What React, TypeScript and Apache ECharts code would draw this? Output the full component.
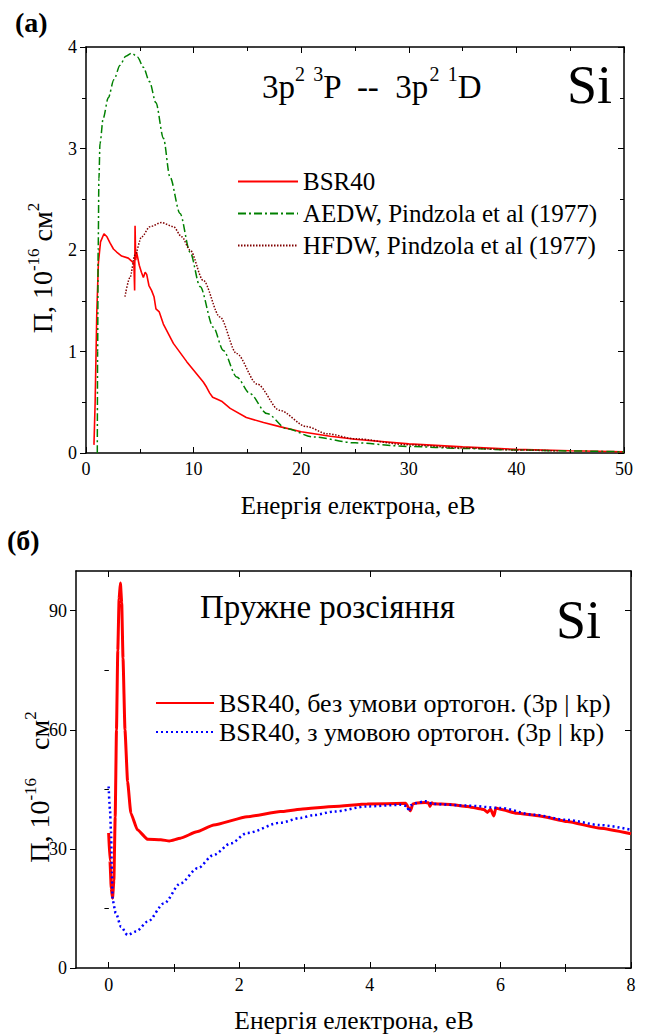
import React, { useEffect, useRef } from "react";
import * as echarts from "echarts";

const FONT = "Liberation Serif";

// ---------- Panel (a): 3p2 3P -- 3p2 1D ----------
const bsrTopE = [0.74, 0.85, 1.0, 1.15, 1.35, 1.67, 1.95, 2.23, 2.55, 2.85, 3.31, 3.93, 4.24, 4.45, 4.52, 4.56, 4.62, 4.7, 4.95, 5.15, 5.33, 5.5, 5.64, 5.85, 6.1, 6.32, 6.5, 6.81, 7.19, 8.12, 9.36, 10.9, 11.2, 11.5, 11.77, 12.2, 12.6, 13.4, 14.9, 16.5, 18.0, 20.0, 22.7, 25, 30, 35, 40, 45, 50];
const bsrTopS = [0.08, 0.5, 1.37, 1.87, 2.08, 2.16, 2.13, 2.07, 2.01, 1.98, 1.94, 1.92, 1.89, 1.87, 1.6, 2.24, 1.9, 1.98, 1.85, 1.78, 1.73, 1.78, 1.76, 1.65, 1.6, 1.54, 1.42, 1.39, 1.27, 1.08, 0.9, 0.7, 0.65, 0.59, 0.55, 0.53, 0.51, 0.44, 0.35, 0.3, 0.26, 0.21, 0.165, 0.135, 0.09, 0.06, 0.036, 0.022, 0.012];

const aedwE = [1.05, 1.08, 1.13, 1.2, 1.3, 1.6, 2.07, 2.6, 3.16, 3.7, 4.25, 4.8, 5.33, 5.9, 6.5, 7.2, 7.8, 8.74, 9.67, 10.6, 11.83, 12.76, 14.0, 15.24, 16.8, 18.65, 21.1, 25, 30, 35, 40, 45, 50];
const aedwS = [0, 1.0, 2.0, 2.7, 3.05, 3.3, 3.5, 3.68, 3.82, 3.91, 3.94, 3.9, 3.8, 3.66, 3.45, 3.1, 2.72, 2.36, 1.98, 1.64, 1.24, 1.01, 0.75, 0.585, 0.39, 0.24, 0.158, 0.1, 0.065, 0.045, 0.03, 0.02, 0.012];

const hfdwE = [3.62, 4.09, 4.55, 5.17, 5.95, 7.03, 8.12, 8.9, 9.67, 10.9, 12.45, 14.0, 15.9, 18.0, 20.5, 22.4, 25, 30, 35, 40, 44];
const hfdwS = [1.54, 1.73, 1.95, 2.13, 2.23, 2.27, 2.23, 2.13, 2.0, 1.7, 1.34, 0.98, 0.68, 0.42, 0.26, 0.19, 0.14, 0.08, 0.05, 0.03, 0.02];

// ---------- Panel (б): elastic scattering ----------
const noOrthE = [0.0, 0.02, 0.04, 0.06, 0.08, 0.1, 0.12, 0.14, 0.16, 0.18, 0.2, 0.22, 0.25, 0.29, 0.34, 0.44, 0.6, 0.8, 0.93, 1.1, 1.35, 1.61, 2.12, 2.63, 2.94, 3.45, 3.96, 4.55, 4.59, 4.62, 4.66, 4.7, 4.85, 4.9, 4.92, 4.95, 4.97, 5.23, 5.49, 5.69, 5.75, 5.8, 5.85, 5.9, 5.93, 6.0, 6.25, 6.6, 7.02, 7.53, 8.0];
const noOrthS = [34, 27, 20, 17.6, 22, 38, 60, 80, 93, 97, 92, 78, 60, 47, 39, 34.8, 32.4, 32.3, 32.0, 32.7, 34.3, 36.0, 38.1, 39.4, 40.0, 40.7, 41.3, 41.5, 40.5, 39.6, 41.3, 41.5, 41.7, 41.6, 40.7, 41.6, 41.4, 41.2, 40.7, 40.1, 39.9, 39.2, 40.0, 38.3, 40.3, 40.0, 39.0, 38.3, 36.9, 35.2, 33.8];

const orthE = [0.0, 0.02, 0.035, 0.05, 0.06, 0.11, 0.19, 0.29, 0.42, 0.6, 0.85, 1.1, 1.36, 1.61, 1.87, 2.12, 2.63, 2.94, 3.14, 3.45, 3.96, 4.47, 4.57, 4.6, 4.63, 4.7, 4.85, 4.97, 5.49, 6.0, 6.51, 7.02, 7.53, 8.0];
const orthS = [45.7, 40, 34.8, 24, 17.1, 13.8, 10.4, 8.3, 9.2, 11.7, 16.3, 21.3, 25.1, 28.5, 31.4, 34.0, 36.6, 37.8, 38.5, 39.4, 40.7, 41.1, 40.8, 39.4, 41.0, 41.5, 42.0, 41.3, 40.9, 40.3, 38.6, 37.3, 36.0, 34.8];

// ---------- Names / ticks ----------
const legendTop = ["BSR40", "AEDW, Pindzola et al (1977)", "HFDW, Pindzola et al (1977)"];
const legendBottom = ["BSR40, без умови ортогон. (3p | kp)", "BSR40, з умовою ортогон. (3p | kp)"];
const xTicksB = [0, 2, 4, 6, 8];
const xMinorB = [1, 3, 5, 7];
const yTicksB = [0, 30, 60, 90];
const yMinorB = [15, 45, 75];

const zip = (xs: number[], ys: number[]) => xs.map((x, i) => [x, ys[i]]);

const black = "#000";
const axisLine = { show: true, onZero: false, lineStyle: { color: black, width: 1.5 } };
const tickLine = { color: black, width: 1 };
const labelStyle = { color: black, fontFamily: FONT, fontSize: 18 };

function buildOption() {
  const xAxis: any[] = [
    {
      gridIndex: 0, type: "value", position: "bottom", min: 0, max: 50, interval: 10,
      axisLine, axisTick: { show: true, inside: true, length: 6, lineStyle: tickLine },
      minorTick: { show: true, splitNumber: 2, length: 4, lineStyle: tickLine },
      axisLabel: { ...labelStyle, margin: 7 }, splitLine: { show: false },
    },
    {
      gridIndex: 0, type: "value", position: "top", min: 0, max: 50, interval: 10,
      axisLine, axisTick: { show: true, inside: true, length: 6, lineStyle: tickLine },
      minorTick: { show: true, splitNumber: 2, length: 4, lineStyle: tickLine },
      axisLabel: { show: false }, splitLine: { show: false },
    },
    {
      gridIndex: 1, type: "value", position: "bottom", min: -0.5, max: 8,
      axisLine, axisTick: { show: true, inside: true, length: 6, lineStyle: tickLine, customValues: xTicksB },
      axisLabel: { ...labelStyle, margin: 8, customValues: xTicksB }, splitLine: { show: false },
    },
    {
      gridIndex: 1, type: "value", position: "bottom", min: -0.5, max: 8,
      axisLine: { show: false }, axisTick: { show: true, inside: true, length: 4, lineStyle: tickLine, customValues: xMinorB },
      axisLabel: { show: false }, splitLine: { show: false },
    },
    {
      gridIndex: 1, type: "value", position: "top", min: -0.5, max: 8,
      axisLine, axisTick: { show: true, inside: true, length: 6, lineStyle: tickLine, customValues: xTicksB },
      axisLabel: { show: false }, splitLine: { show: false },
    },
    {
      gridIndex: 1, type: "value", position: "top", min: -0.5, max: 8,
      axisLine: { show: false }, axisTick: { show: true, inside: true, length: 4, lineStyle: tickLine, customValues: xMinorB },
      axisLabel: { show: false }, splitLine: { show: false },
    },
  ];
  const yAxis: any[] = [
    {
      gridIndex: 0, type: "value", position: "left", min: 0, max: 4, interval: 1,
      axisLine, axisTick: { show: true, inside: false, length: 6, lineStyle: tickLine },
      minorTick: { show: true, splitNumber: 2, length: 4, lineStyle: tickLine },
      axisLabel: { ...labelStyle, margin: 9 }, splitLine: { show: false },
    },
    {
      gridIndex: 0, type: "value", position: "right", min: 0, max: 4, interval: 1,
      axisLine, axisTick: { show: true, inside: true, length: 6, lineStyle: tickLine },
      minorTick: { show: true, splitNumber: 2, length: 4, lineStyle: tickLine },
      axisLabel: { show: false }, splitLine: { show: false },
    },
    {
      gridIndex: 1, type: "value", position: "left", min: 0, max: 100,
      axisLine, axisTick: { show: true, inside: false, length: 6, lineStyle: tickLine, customValues: yTicksB },
      axisLabel: { ...labelStyle, margin: 9, customValues: yTicksB }, splitLine: { show: false },
    },
    {
      gridIndex: 1, type: "value", position: "left", min: 0, max: 100,
      axisLine: { show: false }, axisTick: { show: true, inside: false, length: 4, lineStyle: tickLine, customValues: yMinorB },
      axisLabel: { show: false }, splitLine: { show: false },
    },
    {
      gridIndex: 1, type: "value", position: "right", min: 0, max: 100,
      axisLine, axisTick: { show: true, inside: true, length: 6, lineStyle: tickLine, customValues: yTicksB },
      axisLabel: { show: false }, splitLine: { show: false },
    },
    {
      gridIndex: 1, type: "value", position: "right", min: 0, max: 100,
      axisLine: { show: false }, axisTick: { show: true, inside: true, length: 4, lineStyle: tickLine, customValues: yMinorB },
      axisLabel: { show: false }, splitLine: { show: false },
    },
  ];

  const lineBase = { type: "line", symbol: "none", showSymbol: false, smooth: 0.3, smoothMonotone: "x", z: 3 };

  const series: any[] = [
    { ...lineBase, name: legendTop[0], xAxisIndex: 0, yAxisIndex: 0, data: zip(bsrTopE, bsrTopS), smooth: false,
      lineStyle: { color: "#ff0000", width: 1.6, type: "solid" }, itemStyle: { color: "#ff0000" } },
    { ...lineBase, name: legendTop[1], xAxisIndex: 0, yAxisIndex: 0, data: zip(aedwE, aedwS),
      lineStyle: { color: "#008000", width: 1.5, type: [8, 3, 2, 3] }, itemStyle: { color: "#008000" } },
    { ...lineBase, name: legendTop[2], xAxisIndex: 0, yAxisIndex: 0, data: zip(hfdwE, hfdwS),
      lineStyle: { color: "#800000", width: 1.5, type: [1.5, 1.5] }, itemStyle: { color: "#800000" } },
    { ...lineBase, name: legendBottom[0], xAxisIndex: 2, yAxisIndex: 2, data: zip(noOrthE, noOrthS), smooth: 0.15,
      lineStyle: { color: "#ff0000", width: 3, type: "solid" }, itemStyle: { color: "#ff0000" } },
    { ...lineBase, name: legendBottom[1], xAxisIndex: 2, yAxisIndex: 2, data: zip(orthE, orthS),
      lineStyle: { color: "#0000ff", width: 2.5, type: [2, 3] }, itemStyle: { color: "#0000ff" } },
  ];

  const legend: any[] = [
    { data: legendTop, orient: "vertical", left: 237, top: 169, itemWidth: 60, itemHeight: 14, itemGap: 7,
      padding: 0, textStyle: { fontFamily: FONT, fontSize: 25, color: black }, selectedMode: false, itemStyle: { opacity: 0 } },
    { data: legendBottom, orient: "vertical", left: 155, top: 690, itemWidth: 58, itemHeight: 14, itemGap: 3,
      padding: 0, textStyle: { fontFamily: FONT, fontSize: 26, color: black }, selectedMode: false, itemStyle: { opacity: 0 } },
  ];

  const supRich = (main: number, lh: number, sup: number) => ({
    m: { fontSize: main, lineHeight: lh, fontFamily: FONT, fill: black },
    s: { fontSize: sup, lineHeight: sup, verticalAlign: "top", fontFamily: FONT, fill: black },
  });

  const graphic: any[] = [
    { type: "text", x: 15, y: 22, style: { text: "(a)", fontSize: 28, fontWeight: "bold", fontFamily: FONT, fill: black, align: "left", verticalAlign: "middle" } },
    { type: "text", x: 7, y: 540, style: { text: "(б)", fontSize: 28, fontWeight: "bold", fontFamily: FONT, fill: black, align: "left", verticalAlign: "middle" } },
    { type: "text", x: 262, y: 87, style: { text: "{m|3p}{s|2}{m| }{s|3}{m|P  --  3p}{s|2}{m| }{s|1}{m|D}", rich: supRich(33, 47, 20), fontSize: 33, fontFamily: FONT, align: "left", verticalAlign: "middle" } },
    { type: "text", x: 567, y: 84.5, style: { text: "Si", fontSize: 54, fontFamily: FONT, fill: black, align: "left", verticalAlign: "middle" } },
    { type: "text", x: 200, y: 607, style: { text: "Пружне розсіяння", fontSize: 33, fontFamily: FONT, fill: black, align: "left", verticalAlign: "middle" } },
    { type: "text", x: 556, y: 620, style: { text: "Si", fontSize: 54, fontFamily: FONT, fill: black, align: "left", verticalAlign: "middle" } },
    { type: "text", x: 358, y: 505, style: { text: "Енергія електрона, еВ", fontSize: 25, fontFamily: FONT, fill: black, align: "center", verticalAlign: "middle" } },
    { type: "text", x: 354, y: 1020, style: { text: "Енергія електрона, еВ", fontSize: 25.5, fontFamily: FONT, fill: black, align: "center", verticalAlign: "middle" } },
    { type: "text", x: 42, y: 268, rotation: Math.PI / 2, style: { text: "{m|П, 10}{s|-16}{m| см}{s|2}", rich: supRich(28, 34, 17), fontSize: 28, fontFamily: FONT, align: "center", verticalAlign: "middle" } },
    { type: "text", x: 39, y: 787, rotation: Math.PI / 2, style: { text: "{m|П, 10}{s|-16}{m|    см}{s|2}", rich: supRich(28, 34, 17), fontSize: 28, fontFamily: FONT, align: "center", verticalAlign: "middle" } },
  ];

  return {
    animation: false,
    backgroundColor: "#fff",
    textStyle: { fontFamily: FONT },
    grid: [
      { left: 86, top: 47, width: 538, height: 406, containLabel: false },
      { left: 76, top: 571, width: 555, height: 397, containLabel: false },
    ],
    xAxis,
    yAxis,
    legend,
    series,
    graphic,
  };
}

export default function App() {
  const ref = useRef<HTMLDivElement>(null);
  useEffect(() => {
    document.body.style.margin = "0";
    if (!ref.current) return;
    const chart = echarts.init(ref.current, undefined, { renderer: "svg" });
    chart.setOption(buildOption() as any);
    return () => chart.dispose();
  }, []);
  return <div ref={ref} style={{ width: 648, height: 1035, background: "#fff" }} />;
}
